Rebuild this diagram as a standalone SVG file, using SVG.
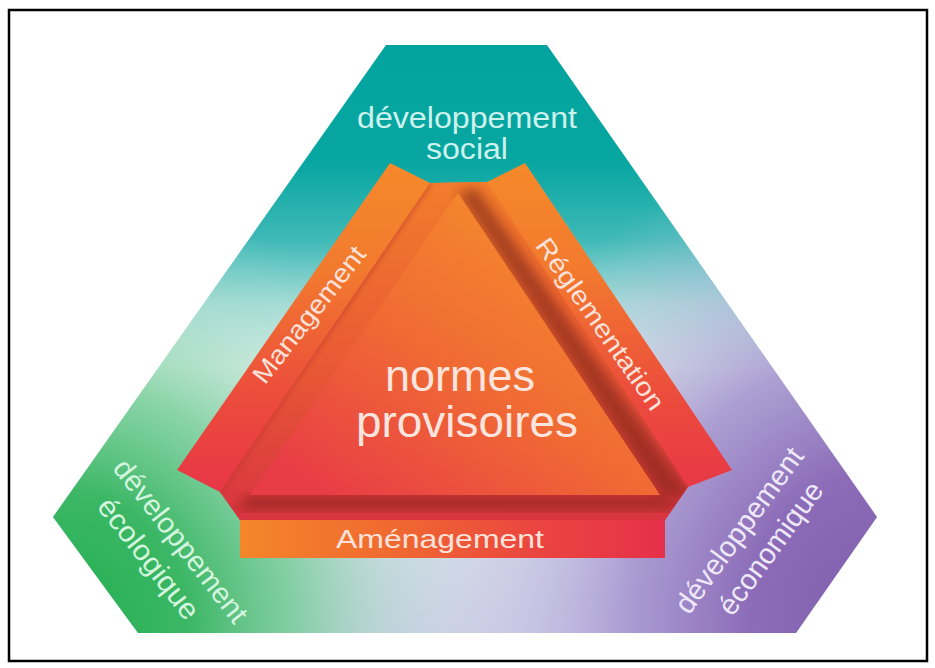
<svg xmlns="http://www.w3.org/2000/svg" width="935" height="668" viewBox="0 0 935 668">
  <defs>
    <style>
      text { font-family: "Liberation Sans", Arial, sans-serif; text-anchor: middle; }
      .ring { font-size: 29px; }
      .band { font-size: 26px; fill: #fde2da; }
      .core { font-size: 45px; fill: #fbe5de; }
    </style>
    <!-- outer hexagon colour field -->
    <linearGradient id="hexBase" gradientUnits="userSpaceOnUse" x1="0" y1="45" x2="0" y2="633">
      <stop offset="0" stop-color="#02a39e"/>
      <stop offset="0.2" stop-color="#08a6a1"/>
      <stop offset="0.33" stop-color="#3fb9b7"/>
      <stop offset="0.44" stop-color="#a2dbd6"/>
      <stop offset="0.55" stop-color="#dcefe9"/>
      <stop offset="1" stop-color="#ccd0e6"/>
    </linearGradient>
    <radialGradient id="greenGlow" gradientUnits="userSpaceOnUse" cx="60" cy="620" r="430">
      <stop offset="0" stop-color="#20ae50"/>
      <stop offset="0.3" stop-color="#3cb765"/>
      <stop offset="0.55" stop-color="#6ecd91" stop-opacity="0.75"/>
      <stop offset="0.8" stop-color="#a8dcc4" stop-opacity="0.25"/>
      <stop offset="1" stop-color="#c0e4d4" stop-opacity="0"/>
    </radialGradient>
    <radialGradient id="purpleGlow" gradientUnits="userSpaceOnUse" cx="890" cy="610" r="470">
      <stop offset="0" stop-color="#7e5eac"/>
      <stop offset="0.3" stop-color="#8c6cb8"/>
      <stop offset="0.55" stop-color="#a08ccd" stop-opacity="0.8"/>
      <stop offset="0.8" stop-color="#c4b8e2" stop-opacity="0.35"/>
      <stop offset="1" stop-color="#dcd4ee" stop-opacity="0"/>
    </radialGradient>
    <!-- frame pieces -->
    <linearGradient id="bandFace" gradientUnits="userSpaceOnUse" x1="0" y1="163" x2="0" y2="520">
      <stop offset="0" stop-color="#f6892a"/>
      <stop offset="0.3" stop-color="#f27a2e"/>
      <stop offset="0.65" stop-color="#ec4c3c"/>
      <stop offset="1" stop-color="#e6304a"/>
    </linearGradient>
    <linearGradient id="wallFill" gradientUnits="userSpaceOnUse" x1="0" y1="183" x2="0" y2="520">
      <stop offset="0" stop-color="#f27c2c"/>
      <stop offset="0.5" stop-color="#ea5c34"/>
      <stop offset="1" stop-color="#d83440"/>
    </linearGradient>
    <linearGradient id="coreFill" gradientUnits="userSpaceOnUse" x1="520" y1="200" x2="330" y2="500">
      <stop offset="0" stop-color="#f58a2c"/>
      <stop offset="0.5" stop-color="#f06a34"/>
      <stop offset="1" stop-color="#e83c46"/>
    </linearGradient>
    <linearGradient id="barFill" gradientUnits="userSpaceOnUse" x1="240" y1="0" x2="665" y2="0">
      <stop offset="0" stop-color="#f5862a"/>
      <stop offset="0.35" stop-color="#f06a30"/>
      <stop offset="0.7" stop-color="#ea4540"/>
      <stop offset="1" stop-color="#e6304a"/>
    </linearGradient>
    <filter id="soft" x="-20%" y="-20%" width="140%" height="140%">
      <feGaussianBlur stdDeviation="6"/>
    </filter>
    <filter id="thin" x="-20%" y="-20%" width="140%" height="140%">
      <feGaussianBlur stdDeviation="2"/>
    </filter>
    <clipPath id="hexClip">
      <polygon points="386,45 547,45 877,517 796,633 138,633 53,517"/>
    </clipPath>
    <clipPath id="wallClip">
      <polygon points="430,183 487,182 688,487 665,520 240,520 220,492"/>
    </clipPath>
  </defs>

  <rect x="0" y="0" width="935" height="668" fill="#ffffff"/>
  <rect x="9" y="10" width="918" height="651" fill="#ffffff" stroke="#000000" stroke-width="2.5"/>

  <!-- three-pillar hexagon -->
  <g id="pillars" clip-path="url(#hexClip)">
    <rect x="40" y="40" width="850" height="600" fill="url(#hexBase)"/>
    <rect x="40" y="40" width="850" height="600" fill="url(#greenGlow)"/>
    <rect x="40" y="40" width="850" height="600" fill="url(#purpleGlow)"/>
  </g>

  <!-- raised frame around the core triangle -->
  <g id="frame">
    <polygon points="390,163 430,183 487,182 525,163 732,470 688,487 665,520 240,520 220,492 177,470" fill="url(#bandFace)"/>
    <polygon points="430,183 487,182 688,487 665,520 240,520 220,492" fill="url(#wallFill)"/>
    <g clip-path="url(#wallClip)">
      <line x1="430" y1="183" x2="220" y2="492" stroke="#b8352c" stroke-width="5" opacity="0.45" filter="url(#thin)"/>
      <polygon points="458,193 476,188 694,500 660,495" fill="#7a2015" opacity="0.6" filter="url(#soft)"/>
      <polygon points="250,495 660,495 684,510 236,510" fill="#7a2015" opacity="0.55" filter="url(#soft)"/>
    </g>
  </g>

  <g id="core">
    <polygon points="458,193 660,495 250,495" fill="url(#coreFill)"/>
    <text class="core" x="460" y="391" textLength="150" lengthAdjust="spacingAndGlyphs">normes</text>
    <text class="core" x="467" y="437" textLength="222" lengthAdjust="spacingAndGlyphs">provisoires</text>
  </g>

  <g id="amenagement">
    <rect x="240" y="520" width="425" height="38" fill="url(#barFill)"/>
    <text class="band" x="440" y="548" textLength="208" lengthAdjust="spacingAndGlyphs">Aménagement</text>
  </g>

  <g id="management">
    <text class="band" transform="translate(316,320) rotate(-52)" textLength="166" lengthAdjust="spacingAndGlyphs">Management</text>
  </g>

  <g id="reglementation">
    <text class="band" transform="translate(593,329) rotate(55)" textLength="204" lengthAdjust="spacingAndGlyphs">Réglementation</text>
  </g>

  <!-- pillar labels -->
  <g id="social" class="ring" fill="#cdf2ee">
    <text x="467" y="128" textLength="220" lengthAdjust="spacingAndGlyphs">développement</text>
    <text x="467" y="159" textLength="82" lengthAdjust="spacingAndGlyphs">social</text>
  </g>

  <g id="ecologique" class="ring" fill="#d4f5de" transform="translate(173,547) rotate(52)">
    <text x="0" y="0" textLength="199" lengthAdjust="spacingAndGlyphs">développement</text>
    <text x="-6" y="36" textLength="146" lengthAdjust="spacingAndGlyphs">écologique</text>
  </g>

  <g id="economique" class="ring" fill="#eee8f7" transform="translate(747,536) rotate(-54)">
    <text x="0" y="0" textLength="197" lengthAdjust="spacingAndGlyphs">développement</text>
    <text x="4" y="36" textLength="157" lengthAdjust="spacingAndGlyphs">économique</text>
  </g>
</svg>
